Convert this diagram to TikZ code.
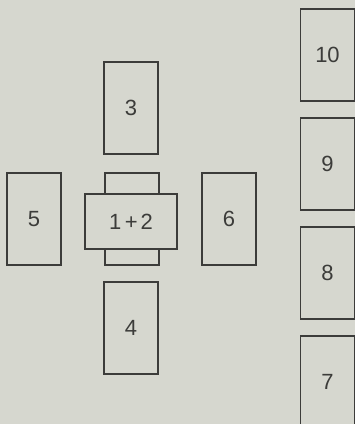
\documentclass[tikz,border=0pt]{standalone}
\usepackage{fontspec}
\setmainfont{Liberation Sans}
\definecolor{bg}{RGB}{214,215,207}
\definecolor{ln}{RGB}{60,60,58}
\begin{document}
\begin{tikzpicture}[x=1pt,y=-1pt,
  card/.style={draw=ln, line width=1.1pt, fill=bg, minimum width=54pt, minimum height=92pt, inner sep=0pt, font=\fontsize{22}{26}\selectfont, text=ln},
  wide/.style={card, minimum width=92pt, minimum height=55pt}]
\fill[bg] (0,0) rectangle (355,424);
\useasboundingbox (0,0) rectangle (355,424);
\node[card] (n3) at (131,108) {3};
\node[card] (n4) at (131,328) {4};
\node[card] (n5) at (34,219) {5};
\node[card] (n6) at (229,219) {6};
\node[card] (n1) at (132,219) {};
\node[wide] (n12) at (131,221.5) {1\hspace{3.5pt}+\hspace{3pt}2};
\node[card] (n10) at (327.5,55) {10};
\node[card] (n9) at (327.5,164) {9};
\node[card] (n8) at (327.5,273) {8};
\node[card] (n7) at (327.5,382) {7};
\end{tikzpicture}
\end{document}
